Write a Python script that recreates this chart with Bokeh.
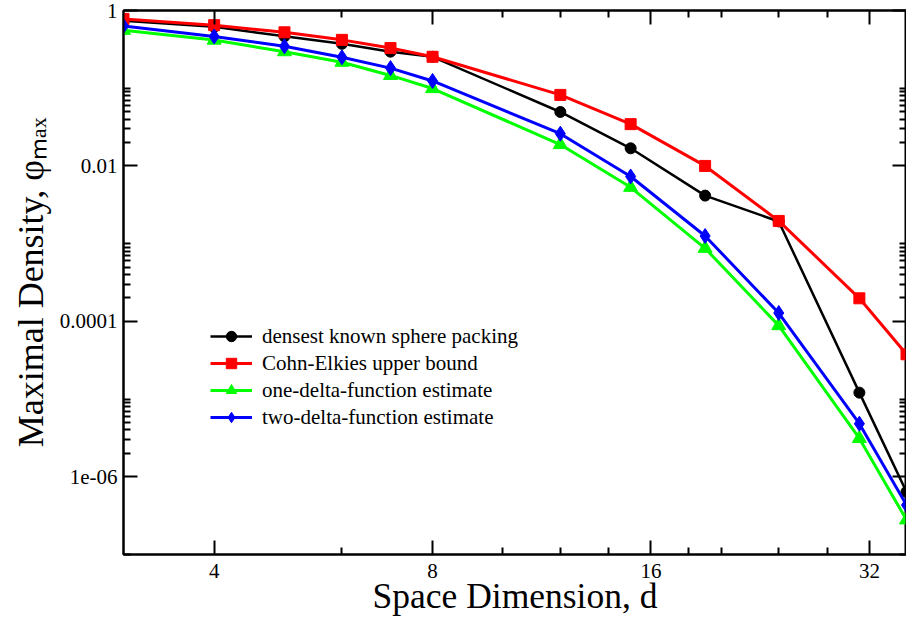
import math
from bokeh.plotting import figure
from bokeh.models import (LogAxis, FixedTicker, CustomJSTickFormatter,
                          Legend, LegendItem, ColumnDataSource, Range1d)
from bokeh.embed import file_html
from bokeh.resources import INLINE

# ---------------- data ----------------
dims = [3, 4, 5, 6, 7, 8, 12, 15, 19, 24, 31, 36]
densest_known = [0.7405, 0.6169, 0.4653, 0.3729, 0.2953, 0.2537,
                 0.04945, 0.01686, 0.00415, 0.00193, 1.21e-5, 6.4e-7]
cohn_elkies = [0.7797, 0.6476, 0.5242, 0.4190, 0.3287, 0.2537,
               0.0820, 0.0345, 0.0100, 0.00196, 1.98e-4, 3.77e-5]
one_delta = [0.557, 0.416, 0.295, 0.216, 0.146, 0.099,
             0.01884, 0.00531, 0.000871, 8.81e-5, 3.11e-6, 2.79e-7]
two_delta = [0.632, 0.463, 0.346, 0.250, 0.1815, 0.124,
             0.0260, 0.00732, 0.001253, 1.28e-4, 4.82e-6, 4.32e-7]

series_names = ["densest known sphere packing", "Cohn-Elkies upper bound",
                "one-delta-function estimate", "two-delta-function estimate"]

x_ticks = [4, 8, 16, 32]
x_tick_labels = ["4", "8", "16", "32"]
x_minor_ticks = [6, 10, 12, 14, 18, 20, 24, 28]
y_ticks = [1e-6, 1e-4, 1e-2, 1.0]
y_tick_labels = ["1e-06", "0.0001", "0.01", "1"]
y_minor_ticks = [k * 10.0 ** e for e in (-8, -6, -4, -2) for k in range(2, 11)]

x_title = "Space Dimension, d"
y_title = "Maximal Density, \u03c6\u2098\u2090\u2093"

FONT = "Liberation Serif"

src = ColumnDataSource(dict(d=dims, dk=densest_known, ce=cohn_elkies,
                            one=one_delta, two=two_delta))

p = figure(width=906, height=621, x_axis_type="log", y_axis_type="log",
           x_range=Range1d(3, 36), y_range=Range1d(1e-7, 1),
           output_backend="svg", toolbar_location=None,
           min_border_left=123, min_border_right=0, min_border_top=10,
           min_border_bottom=67)
p.grid.visible = False
p.outline_line_color = "black"
p.outline_line_width = 2
p.background_fill_color = "white"
p.border_fill_color = "white"

fmt_js = """
const i = vals.findIndex(v => Math.abs(v - tick) <= 1e-9 * Math.abs(v));
return i >= 0 ? labels[i] : "";
"""

def style_axis(ax, ticks, minor, labels, show_labels):
    ax.ticker = FixedTicker(ticks=ticks, minor_ticks=minor)
    ax.major_tick_in = 14
    ax.major_tick_out = 0
    ax.minor_tick_in = 7
    ax.minor_tick_out = 0
    ax.major_tick_line_width = 2
    ax.minor_tick_line_width = 2
    ax.axis_line_width = 2
    ax.axis_line_color = "black"
    ax.major_tick_line_color = "black"
    ax.minor_tick_line_color = "black"
    ax.axis_label = None
    if show_labels:
        ax.formatter = CustomJSTickFormatter(args=dict(vals=ticks, labels=labels), code=fmt_js)
        ax.major_label_text_font = FONT
        ax.major_label_text_font_size = "21px"
        ax.major_label_text_color = "black"
        ax.major_label_standoff = 6
        ax.axis_label_text_font = FONT
        ax.axis_label_text_font_size = "35.5px"
        ax.axis_label_text_font_style = "normal"
        ax.axis_label_text_color = "black"
    else:
        ax.formatter = CustomJSTickFormatter(code="return '';")
        ax.major_label_text_font_size = "0px"
        ax.major_label_standoff = 0

style_axis(p.xaxis[0], x_ticks, x_minor_ticks, x_tick_labels, True)
style_axis(p.yaxis[0], y_ticks, y_minor_ticks, y_tick_labels, True)
p.xaxis[0].major_label_standoff = 9
p.xaxis[0].axis_label = x_title
p.xaxis[0].axis_label_standoff = -5
p.yaxis[0].axis_label = y_title
p.yaxis[0].axis_label_text_font_size = "36px"
p.yaxis[0].axis_label_standoff = 6

top_axis = LogAxis()
right_axis = LogAxis()
style_axis(top_axis, x_ticks, x_minor_ticks, x_tick_labels, False)
style_axis(right_axis, y_ticks, y_minor_ticks, y_tick_labels, False)
p.add_layout(top_axis, "above")
p.add_layout(right_axis, "right")

# ---------------- series ----------------
specs = [
    ("dk", "black", "circle", 11, 2.5),
    ("ce", "#ff0000", "square", 11, 3),
    ("one", "#00ff00", "triangle", 14, 3),
    ("two", "#0000ff", "diamond", 15, 3),
]
items = []
for (col, color, marker, size, lw), name in zip(specs, series_names):
    lr = p.line(x="d", y=col, source=src, line_color=color, line_width=lw)
    sr = p.scatter(x="d", y=col, source=src, marker=marker, size=size,
                   fill_color=color, line_color=color)
    items.append(LegendItem(label=name, renderers=[lr, sr]))

legend = Legend(items=items, location=(87, 124), glyph_width=42, glyph_height=26,
                label_height=20, spacing=1, padding=0, margin=0, label_standoff=10,
                label_text_font=FONT, label_text_font_size="21px",
                label_text_color="black", border_line_color=None,
                background_fill_alpha=0)
p.add_layout(legend)

open("out.html", "w").write(file_html(p, INLINE))
